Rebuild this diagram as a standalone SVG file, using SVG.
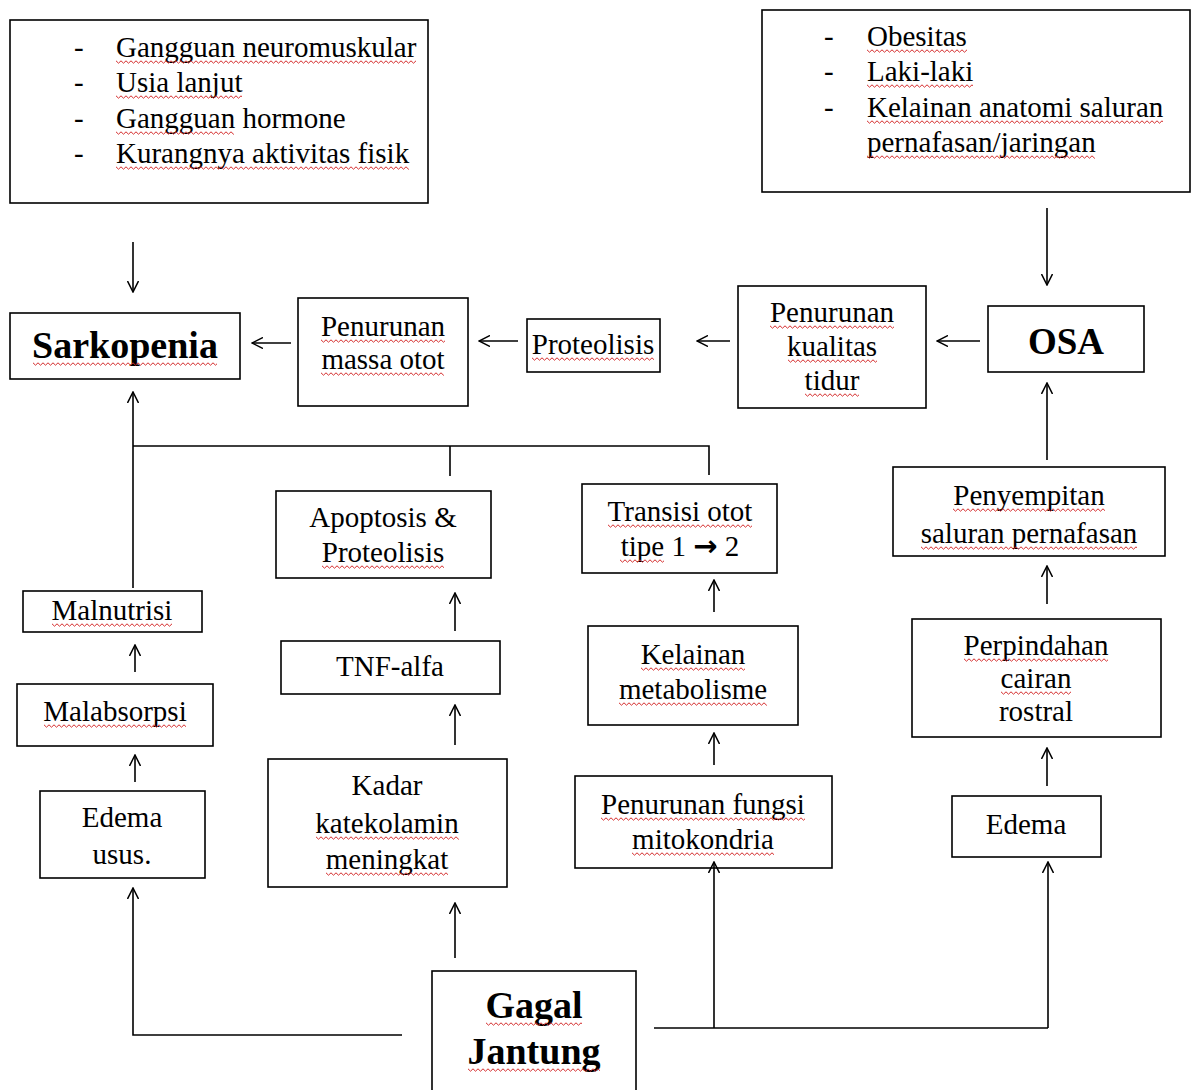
<svg xmlns="http://www.w3.org/2000/svg" width="1192" height="1090" viewBox="0 0 1192 1090">
<style>
.box{fill:#fff;stroke:#000;stroke-width:1.6}
.t{font-family:"Liberation Serif","Times New Roman",serif;font-size:29px;fill:#000;text-anchor:middle}
.l{text-anchor:start}
.b{font-weight:bold;font-size:38px}
.wv{fill:url(#wv)}
.con line,.con path{stroke:#000;stroke-width:1.6;fill:none}
</style>
<defs>
<marker id="ah" viewBox="0 0 12 12" refX="11" refY="6" markerWidth="12" markerHeight="12" markerUnits="userSpaceOnUse" orient="auto">
<path d="M0,0.5 L11,6 L0,11.5" fill="none" stroke="#000" stroke-width="1.5"/>
</marker>
<pattern id="wv" width="5" height="4" patternUnits="userSpaceOnUse">
<path d="M0,0.8 L2.5,3.2 L5,0.8" fill="none" stroke="#d42a2a" stroke-width="1"/>
</pattern>
</defs>
<rect width="1192" height="1090" fill="#fff"/>

<g id="faktor-sarkopenia">
<rect class="box" x="10" y="20" width="418" height="183"/>
<text class="t l" x="74" y="57">-</text><text class="t l" x="116" y="57">Gangguan neuromuskular</text>
<text class="t l" x="74" y="92">-</text><text class="t l" x="116" y="92">Usia lanjut</text>
<text class="t l" x="74" y="128">-</text><text class="t l" x="116" y="128">Gangguan hormone</text>
<text class="t l" x="74" y="163">-</text><text class="t l" x="116" y="163">Kurangnya aktivitas fisik</text>
<rect class="wv" width="300" height="4" transform="translate(116,60)"/>
<rect class="wv" width="126" height="4" transform="translate(116,95)"/>
<rect class="wv" width="118" height="4" transform="translate(116,131)"/>
<rect class="wv" width="293" height="4" transform="translate(116,166)"/>
</g>

<g id="faktor-osa">
<rect class="box" x="762" y="10" width="428" height="182"/>
<text class="t l" x="824" y="46">-</text><text class="t l" x="867" y="46">Obesitas</text>
<text class="t l" x="824" y="81">-</text><text class="t l" x="867" y="81">Laki-laki</text>
<text class="t l" x="824" y="117">-</text><text class="t l" x="867" y="117">Kelainan anatomi saluran</text>
<text class="t l" x="867" y="152">pernafasan/jaringan</text>
<rect class="wv" width="100" height="4" transform="translate(867,49)"/>
<rect class="wv" width="106" height="4" transform="translate(867,84)"/>
<rect class="wv" width="296" height="4" transform="translate(867,120)"/>
<rect class="wv" width="228" height="4" transform="translate(867,155)"/>
</g>

<g id="sarkopenia">
<rect class="box" x="10" y="313" width="230" height="66"/>
<text class="t b" x="125" y="358">Sarkopenia</text>
<rect class="wv" width="184" height="4" transform="translate(33,362)"/>
</g>

<g id="penurunan-massa-otot">
<rect class="box" x="298" y="298" width="170" height="108"/>
<text class="t" x="383" y="336">Penurunan</text>
<text class="t" x="383" y="369">massa otot</text>
<rect class="wv" width="124" height="4" transform="translate(321,339)"/>
<rect class="wv" width="123" height="4" transform="translate(321,372)"/>
</g>

<g id="proteolisis">
<rect class="box" x="527" y="319" width="133" height="53"/>
<text class="t" x="593" y="354">Proteolisis</text>
<rect class="wv" width="122" height="4" transform="translate(532,357)"/>
</g>

<g id="penurunan-kualitas-tidur">
<rect class="box" x="738" y="286" width="188" height="122"/>
<text class="t" x="832" y="322">Penurunan</text>
<text class="t" x="832" y="356">kualitas</text>
<text class="t" x="832" y="390">tidur</text>
<rect class="wv" width="124" height="4" transform="translate(770,325)"/>
<rect class="wv" width="89" height="4" transform="translate(788,359)"/>
<rect class="wv" width="54" height="4" transform="translate(805,393)"/>
</g>

<g id="osa">
<rect class="box" x="988" y="306" width="156" height="66"/>
<text class="t b" x="1066" y="354" style="font-size:37px">OSA</text>
</g>

<g id="apoptosis">
<rect class="box" x="276" y="491" width="215" height="87"/>
<text class="t" x="383" y="527">Apoptosis &amp;</text>
<text class="t" x="383" y="562">Proteolisis</text>
<rect class="wv" width="122" height="4" transform="translate(322,565)"/>
</g>

<g id="tnf-alfa">
<rect class="box" x="281" y="641" width="219" height="53"/>
<text class="t" x="390" y="676">TNF-alfa</text>
</g>

<g id="kadar-katekolamin">
<rect class="box" x="268" y="759" width="239" height="128"/>
<text class="t" x="387" y="795">Kadar</text>
<text class="t" x="387" y="833">katekolamin</text>
<text class="t" x="387" y="869">meningkat</text>
<rect class="wv" width="143" height="4" transform="translate(316,836)"/>
<rect class="wv" width="122" height="4" transform="translate(326,872)"/>
</g>

<g id="transisi-otot">
<rect class="box" x="582" y="484" width="195" height="89"/>
<text class="t" x="680" y="521">Transisi otot</text>
<text class="t" x="680" y="556">tipe 1 <tspan style="font-weight:bold;font-family:'DejaVu Sans',sans-serif;font-size:29px">→</tspan> 2</text>
<rect class="wv" width="144" height="4" transform="translate(608,524)"/>
<rect class="wv" width="44" height="4" transform="translate(620,559)"/>
</g>

<g id="kelainan-metabolisme">
<rect class="box" x="588" y="626" width="210" height="99"/>
<text class="t" x="693" y="664">Kelainan</text>
<text class="t" x="693" y="699">metabolisme</text>
<rect class="wv" width="104" height="4" transform="translate(641,667)"/>
<rect class="wv" width="148" height="4" transform="translate(619,702)"/>
</g>

<g id="penurunan-fungsi-mitokondria">
<rect class="box" x="575" y="776" width="257" height="92"/>
<text class="t" x="703" y="814">Penurunan fungsi</text>
<text class="t" x="703" y="849">mitokondria</text>
<rect class="wv" width="204" height="4" transform="translate(601,817)"/>
<rect class="wv" width="142" height="4" transform="translate(632,852)"/>
</g>

<g id="penyempitan-saluran">
<rect class="box" x="893" y="467" width="272" height="89"/>
<text class="t" x="1029" y="505">Penyempitan</text>
<text class="t" x="1029" y="543">saluran pernafasan</text>
<rect class="wv" width="152" height="4" transform="translate(953,508)"/>
<rect class="wv" width="216" height="4" transform="translate(921,546)"/>
</g>

<g id="perpindahan-cairan">
<rect class="box" x="912" y="619" width="249" height="118"/>
<text class="t" x="1036" y="655">Perpindahan</text>
<text class="t" x="1036" y="688">cairan</text>
<text class="t" x="1036" y="721">rostral</text>
<rect class="wv" width="144" height="4" transform="translate(964,658)"/>
<rect class="wv" width="70" height="4" transform="translate(1001,691)"/>
</g>

<g id="edema">
<rect class="box" x="952" y="796" width="149" height="61"/>
<text class="t" x="1026" y="834">Edema</text>
</g>

<g id="malnutrisi">
<rect class="box" x="23" y="591" width="179" height="41"/>
<text class="t" x="112" y="620">Malnutrisi</text>
<rect class="wv" width="120" height="4" transform="translate(52,623)"/>
</g>

<g id="malabsorpsi">
<rect class="box" x="17" y="684" width="196" height="62"/>
<text class="t" x="115" y="721">Malabsorpsi</text>
<rect class="wv" width="142" height="4" transform="translate(44,724)"/>
</g>

<g id="edema-usus">
<rect class="box" x="40" y="791" width="165" height="87"/>
<text class="t" x="122" y="827">Edema</text>
<text class="t" x="122" y="864">usus.</text>
</g>

<g id="gagal-jantung">
<rect class="box" x="432" y="971" width="204" height="130"/>
<text class="t b" x="534" y="1018">Gagal</text>
<text class="t b" x="534" y="1064">Jantung</text>
<rect class="wv" width="96" height="4" transform="translate(486,1022)"/>
<rect class="wv" width="132" height="4" transform="translate(468,1068)"/>
</g>

<g class="con" id="connectors">
<line x1="133" y1="242" x2="133" y2="292" marker-end="url(#ah)"/>
<line x1="1047" y1="208" x2="1047" y2="285" marker-end="url(#ah)"/>
<line x1="291" y1="343" x2="252" y2="343" marker-end="url(#ah)"/>
<line x1="518" y1="341" x2="479" y2="341" marker-end="url(#ah)"/>
<line x1="730" y1="341" x2="697" y2="341" marker-end="url(#ah)"/>
<line x1="980" y1="341" x2="937" y2="341" marker-end="url(#ah)"/>
<line x1="1047" y1="460" x2="1047" y2="383" marker-end="url(#ah)"/>
<line x1="133" y1="588" x2="133" y2="392" marker-end="url(#ah)"/>
<path d="M133,446 H709 V475 M450,446 V476"/>
<line x1="135" y1="672" x2="135" y2="645" marker-end="url(#ah)"/>
<line x1="135" y1="782" x2="135" y2="755" marker-end="url(#ah)"/>
<path d="M402,1035 H133 V888" marker-end="url(#ah)"/>
<line x1="455" y1="631" x2="455" y2="593" marker-end="url(#ah)"/>
<line x1="455" y1="745" x2="455" y2="705" marker-end="url(#ah)"/>
<line x1="455" y1="958" x2="455" y2="903" marker-end="url(#ah)"/>
<line x1="714" y1="612" x2="714" y2="580" marker-end="url(#ah)"/>
<line x1="714" y1="765" x2="714" y2="733" marker-end="url(#ah)"/>
<path d="M654,1028 H1048"/>
<line x1="714" y1="1028" x2="714" y2="862" marker-end="url(#ah)"/>
<line x1="1048" y1="1028" x2="1048" y2="862" marker-end="url(#ah)"/>
<line x1="1047" y1="604" x2="1047" y2="566" marker-end="url(#ah)"/>
<line x1="1047" y1="786" x2="1047" y2="748" marker-end="url(#ah)"/>
</g>
</svg>
